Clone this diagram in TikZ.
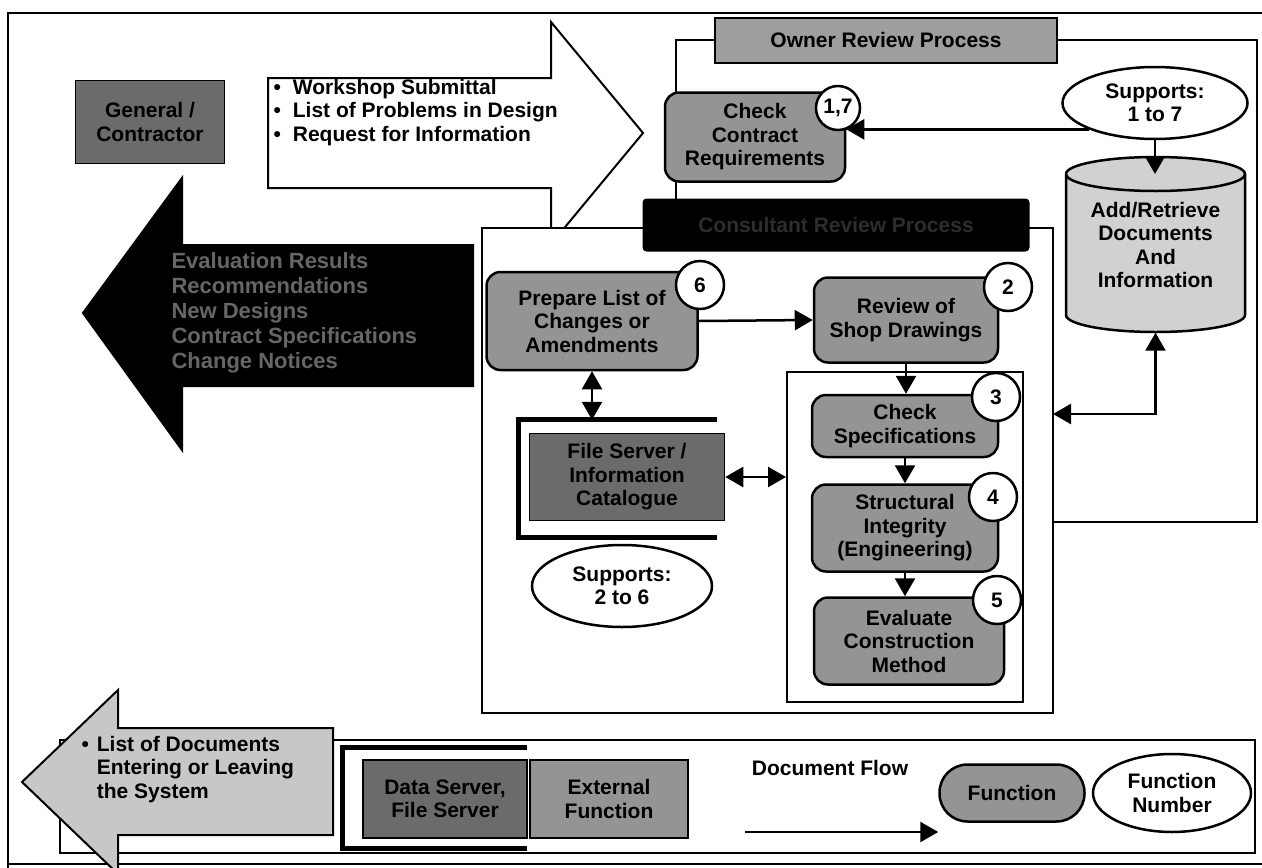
\documentclass[tikz,border=0pt]{standalone}
\usepackage{fontspec}
\setmainfont{Liberation Sans}
\usetikzlibrary{shapes.geometric,arrows.meta}

\newcommand{\boxfont}{\fontsize{21}{23.5}\selectfont\bfseries}
\newcommand{\arrfont}{\fontsize{22}{25}\selectfont\bfseries}

\begin{document}
\begin{tikzpicture}[x=1pt,y=-1pt,
    frame/.style={line width=2pt},
    fnbox/.style={draw, line width=2.5pt, rounded corners=14pt, fill=black!42, align=center, font=\boxfont, inner sep=1pt},
    dkbox/.style={draw, line width=1.5pt, fill=black!58, align=center, font=\boxfont, inner sep=1pt},
    numc/.style={circle, draw, line width=2.5pt, fill=white, minimum size=48pt, inner sep=0pt, font=\boxfont},
    supp/.style={ellipse, draw, line width=2.5pt, fill=white, align=center, font=\boxfont, inner sep=0pt},
    flow/.style={line width=2.5pt, -{Triangle[length=18pt,width=20pt]}},
    both/.style={line width=2.5pt, {Triangle[length=18pt,width=20pt]}-{Triangle[length=18pt,width=20pt]}}]
\clip (0,0) rectangle (1262,868);
\draw[frame] (1262,13) -- (8,13) -- (8,868);
\draw[frame] (8,864) -- (1262,864);

% owner side
\node[draw, frame, minimum width=581pt, minimum height=482pt] (own) at (966.5,281) {};
\node[draw, line width=2pt, fill=black!38, minimum width=342pt, minimum height=45pt, font=\boxfont] (ownt) at (886,40) {Owner Review Process};

% submittals to the owner
\filldraw[frame, fill=white] (268,78) -- (551,78) -- (551,22) -- (643,133) -- (551,244) -- (551,188) -- (268,188) -- cycle;
\node[anchor=west, font=\boxfont] (ws) at (270,113) {\begin{tabular}{@{}l@{\hspace{12pt}}l@{}}
  \textbullet & Workshop Submittal\\
  \textbullet & List of Problems in Design\\
  \textbullet & Request for Information\end{tabular}};

% consultant side
\node[draw, frame, fill=white, minimum width=571pt, minimum height=485pt] (cons) at (767.5,470.5) {};
\node[fill=black, rounded corners=4pt, minimum width=387pt, minimum height=53pt, text=gray!35!black, font=\boxfont] (cont) at (836,225) {Consultant Review Process};

\node[fnbox, minimum width=180pt, minimum height=89pt] (chk) at (755,137) {Check\\Contract\\Requirements};
\node[numc, minimum size=44pt] (c17) at (838,108) {1,7};

\node[supp, minimum width=185pt, minimum height=72pt] (s17) at (1155,103) {Supports:\\1 to 7};
\filldraw[line width=2.5pt, fill=black!18] (1066,174) -- (1066,315) arc[start angle=180, end angle=0, x radius=89.5, y radius=17] -- (1245,174) arc[start angle=0, end angle=-180, x radius=89.5, y radius=17] -- cycle;
\draw[line width=2.5pt] (1066,174) arc[start angle=180, end angle=0, x radius=89.5, y radius=17];
\node[minimum width=179pt, minimum height=175pt, align=center, font=\boxfont] (store) at (1155.5,245) {Add/Retrieve\\Documents\\And\\Information};
\coordinate (lid) at (1155,174);
\coordinate (cr) at (1053,414);

\node[fnbox, minimum width=211pt, minimum height=98pt] (prep) at (592,321) {Prepare List of\\Changes or\\Amendments};
\node[numc] (c6) at (700,285) {6};
\node[fnbox, minimum width=184pt, minimum height=85pt] (rev) at (906,320) {Review of\\Shop Drawings};
\node[numc] (c2) at (1008,287) {2};

\node[draw, frame, minimum width=236pt, minimum height=330pt] (inner) at (905,537) {};
\node[fnbox, minimum width=186pt, minimum height=62pt] (spec) at (905,426) {Check\\Specifications};
\node[numc] (c3) at (996,397) {3};
\node[fnbox, minimum width=186pt, minimum height=87pt] (stru) at (905,528) {Structural\\Integrity\\(Engineering)};
\node[numc] (c4) at (993,497) {4};
\node[fnbox, minimum width=190pt, minimum height=87pt] (eval) at (909,641) {Evaluate\\Construction\\Method};
\node[numc] (c5) at (997,600) {5};

\node[minimum width=198pt, minimum height=117pt] (fsf) at (618,478.5) {};
\draw[line width=5pt] (fsf.north east) -- (fsf.north west) -- (fsf.south west) -- (fsf.south east);
\node[dkbox, minimum width=195pt, minimum height=87pt] (fs) at (627,477) {File Server /\\Information\\Catalogue};
\node[supp, minimum width=180pt, minimum height=82pt] (s26) at (622,586) {Supports:\\2 to 6};

% document flow
\draw[flow] (s17.south west) -- (s17.south west -| chk.east);
\draw[flow] (s17.south) -- (lid);
\draw[both] (store.south) |- (cr);
\draw[flow] (prep.east) -- (rev.west);
\draw[flow] (rev.south) -- (rev.south |- spec.north);
\draw[flow] (spec.south) -- (spec.south |- stru.north);
\draw[flow] (stru.south) -- (stru.south |- eval.north);
\draw[both] (prep.south) -- (prep.south |- fsf.north);
\draw[both] (fs.east) -- (fs.east -| inner.west);

% results back to the contractor
\filldraw[frame, fill=black] (473,245) -- (182,245) -- (182,178) -- (83,313) -- (182,450) -- (182,386) -- (473,386) -- cycle;
\node[anchor=west, align=left, text=gray!80!black, font=\arrfont] (evr) at (168,313) {Evaluation Results\\Recommendations\\New Designs\\Contract Specifications\\Change Notices};
\node[dkbox, minimum width=149pt, minimum height=83pt] (gc) at (150,122) {General /\\Contractor};

% legend
\node[draw, frame, minimum width=1195pt, minimum height=113pt] (leg) at (657.5,796.5) {};
\filldraw[frame, fill=black!22] (333,728) -- (118,728) -- (118,690) -- (22,782) -- (118,874) -- (118,835) -- (333,835) -- cycle;
\node[anchor=west, font=\boxfont] (docs) at (78,770) {\begin{tabular}{@{}l@{\hspace{8pt}}l@{}}
  \textbullet & List of Documents\\
  & Entering or Leaving\\
  & the System\end{tabular}};
\node[minimum width=184pt, minimum height=100pt] (dsf) at (435,798) {};
\draw[line width=5pt] (dsf.north east) -- (dsf.north west) -- (dsf.south west) -- (dsf.south east);
\node[dkbox, minimum width=164pt, minimum height=78pt] (ds) at (445,799) {Data Server,\\File Server};
\node[draw, line width=1.5pt, fill=black!42, align=center, font=\boxfont, minimum width=158pt, minimum height=78pt] (ext) at (609,799) {External\\Function};
\node[font=\boxfont] (dft) at (830,768) {Document Flow};
\coordinate (dfa) at (745,832);
\node[fnbox, rounded corners=28pt, minimum width=145pt, minimum height=57pt] (fnl) at (1012,793) {Function};
\node[supp, minimum width=158pt, minimum height=78pt] (fnn) at (1172,793) {Function\\Number};
\draw[flow] (dfa) -- (dfa -| fnl.west);
\end{tikzpicture}
\end{document}
